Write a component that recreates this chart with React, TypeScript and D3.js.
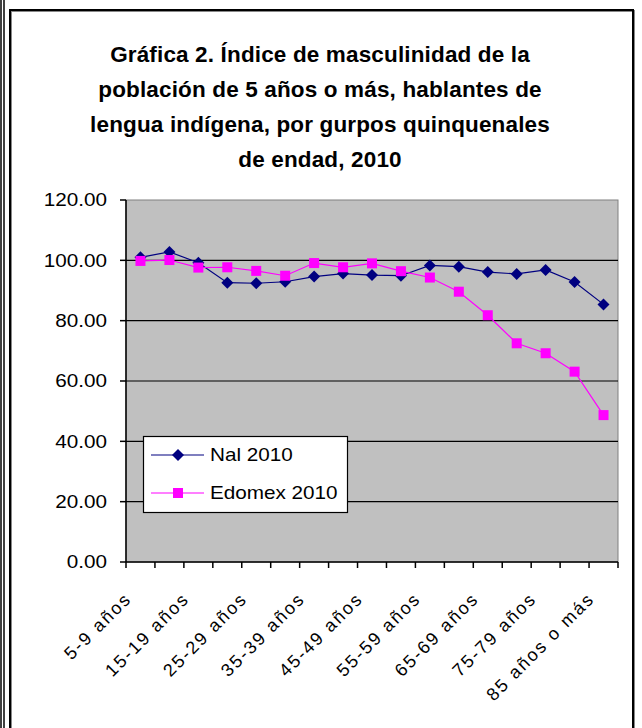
import React from 'react';
import * as d3 from 'd3';

const categories = [
  '5-9 años', '10-14 años', '15-19 años', '20-24 años', '25-29 años', '30-34 años',
  '35-39 años', '40-44 años', '45-49 años', '50-54 años', '55-59 años', '60-64 años',
  '65-69 años', '70-74 años', '75-79 años', '80-84 años', '85 años o más',
];

const nal2010 = [101.0, 102.8, 99.2, 92.6, 92.4, 92.9, 94.6, 95.6, 95.1, 94.9, 98.3, 97.9, 96.1, 95.5, 96.8, 92.8, 85.4];
const edomex2010 = [99.8, 100.1, 97.6, 97.7, 96.5, 94.9, 99.1, 97.7, 99.0, 96.4, 94.3, 89.6, 81.8, 72.5, 69.2, 63.1, 48.7];

const yTicks = [0, 20, 40, 60, 80, 100, 120];

const titleLines = [
  'Gráfica 2. Índice de masculinidad de la',
  'población de 5 años o más, hablantes de',
  'lengua indígena, por gurpos quinquenales',
  'de endad, 2010',
];

const W = 642;
const H = 728;
const plot = { left: 126, right: 618, top: 200, bottom: 562 };
const font = '"Liberation Sans", Arial, sans-serif';
// the source picture is a little stretched sideways
const sx = 1.15;

export default function App() {
  const x = d3.scaleBand<string>().domain(categories).range([plot.left, plot.right]).padding(0);
  const y = d3.scaleLinear().domain([0, 120]).range([plot.bottom, plot.top]);
  const cx = (i: number) => (x(categories[i]) as number) + x.bandwidth() / 2;

  const line = d3.line<number>().x((_, i) => cx(i)).y(d => y(d));

  const diamond = (px: number, py: number, r: number) =>
    `M${px},${py - r}L${px + r},${py}L${px},${py + r}L${px - r},${py}Z`;

  const tickXs = categories.map(c => x(c) as number).concat([plot.right]);

  return (
    <svg width={W} height={H} style={{ position: 'absolute', left: 0, top: 0, background: '#fff' }}>
      {/* outer borders */}
      <line x1={1} y1={0} x2={1} y2={H} stroke="#000" strokeWidth={1.5} />
      <line x1={4} y1={0} x2={4} y2={H} stroke="#000" strokeWidth={1.5} />
      <rect x={11} y={11} width={623} height={H + 10} fill="none" stroke="#888" strokeWidth={2} />
      <rect x={10} y={10} width={623} height={H + 10} fill="none" stroke="#000" strokeWidth={2} />

      {/* title */}
      {titleLines.map((t, i) => (
        <text key={i} x={320} y={62 + i * 35} textAnchor="middle" fontFamily={font}
          fontWeight="bold" fontSize={22.5} letterSpacing={0.15} fill="#000">{t}</text>
      ))}

      {/* plot area */}
      <rect x={plot.left} y={plot.top} width={plot.right - plot.left} height={plot.bottom - plot.top}
        fill="#c0c0c0" stroke="#808080" strokeWidth={1} />

      {/* gridlines */}
      {yTicks.filter(t => t > 0 && t < 120).map(t => (
        <line key={t} x1={plot.left} x2={plot.right} y1={y(t)} y2={y(t)} stroke="#000" strokeWidth={1.2} />
      ))}

      {/* axes */}
      <line x1={plot.left} x2={plot.left} y1={plot.top} y2={plot.bottom} stroke="#000" strokeWidth={1.5} />
      <line x1={plot.left} x2={plot.right} y1={plot.bottom} y2={plot.bottom} stroke="#000" strokeWidth={1.5} />
      {yTicks.map(t => (
        <g key={t}>
          <line x1={plot.left - 6} x2={plot.left} y1={y(t)} y2={y(t)} stroke="#000" strokeWidth={1.5} />
          <text transform={`translate(107,${y(t)}) scale(${sx},1)`} dy="0.35em" textAnchor="end"
            fontFamily={font} fontSize={18} fill="#000">{t.toFixed(2)}</text>
        </g>
      ))}
      {tickXs.map((tx, i) => (
        <line key={i} x1={tx} x2={tx} y1={plot.bottom} y2={plot.bottom + 6} stroke="#000" strokeWidth={1.5} />
      ))}
      {categories.map((c, i) => i % 2 === 0 ? (
        <text key={c} transform={`translate(${cx(i) - 8},600) rotate(-45)`}
          textAnchor="end" fontFamily={font} fontSize={18} letterSpacing={2}
          fill="#000">{c}</text>
      ) : null)}

      {/* series Nal 2010 */}
      <path d={line(nal2010) as string} fill="none" stroke="#000080" strokeWidth={1.2} />
      {nal2010.map((v, i) => (
        <path key={i} d={diamond(cx(i), y(v), 6)} fill="#000080" />
      ))}

      {/* series Edomex 2010 */}
      <path d={line(edomex2010) as string} fill="none" stroke="#ff00ff" strokeWidth={1.2} />
      {edomex2010.map((v, i) => (
        <rect key={i} x={cx(i) - 5} y={y(v) - 5} width={10} height={10} fill="#ff00ff" />
      ))}

      {/* legend */}
      <rect x={143.5} y={436.5} width={204} height={76} fill="#fff" stroke="#000" strokeWidth={1.2} />
      <line x1={151} x2={204} y1={455} y2={455} stroke="#000080" strokeWidth={1.2} />
      <path d={diamond(178, 455, 6)} fill="#000080" />
      <text transform={`translate(210,455) scale(${sx},1)`} dy="0.35em" fontFamily={font} fontSize={18}
        fill="#000">Nal 2010</text>
      <line x1={151} x2={204} y1={493} y2={493} stroke="#ff00ff" strokeWidth={1.2} />
      <rect x={173} y={488} width={10} height={10} fill="#ff00ff" />
      <text transform={`translate(210,493) scale(${sx},1)`} dy="0.35em" fontFamily={font} fontSize={18}
        fill="#000">Edomex 2010</text>
    </svg>
  );
}
